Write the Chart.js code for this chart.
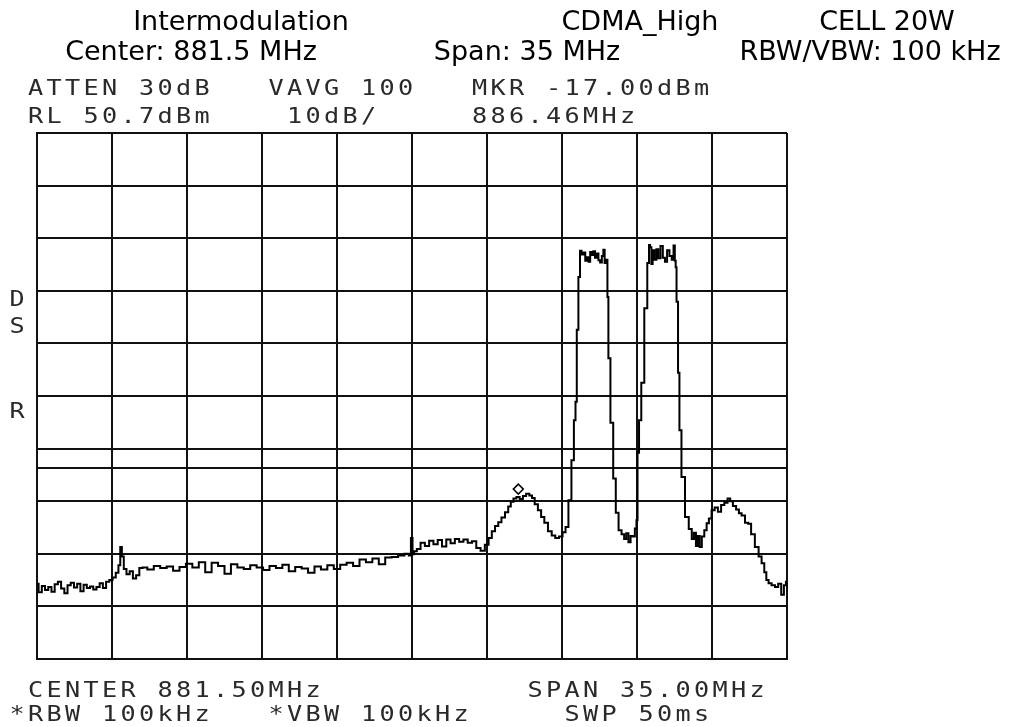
<!DOCTYPE html>
<html lang="en">
<head>
  <meta charset="UTF-8">
  <title>Intermodulation - CDMA_High</title>
  <script src="https://cdn.jsdelivr.net/npm/chart.js"></script>
  <style>
    html, body { margin: 0; padding: 0; background: #fff; }
    canvas { display: block; }
  </style>
</head>
<body>
  <canvas id="spectrum" width="1013" height="727"></canvas>

  <script>
    // sweep settings
    const startMHz = 864.0;
    const stopMHz = 899.0;
    const refLevel = 50.7;   // dBm, top graticule line
    const bottomLevel = -49.3;
    const displayLine = -13; // dBm

    // graticule
    const freqTicks = [864, 867.5, 871, 874.5, 878, 881.5, 885, 888.5, 892, 895.5, 899];
    const levelTicks = [50.7, 40.7, 30.7, 20.7, 10.7, 0.7, -9.3, -19.3, -29.3, -39.3, -49.3];

    // marker
    const markerFreq = [886.46];
    const markerLevel = [-17.0];

    // trace: frequency (MHz) and level (dBm)
    const freqs = [
      864.00, 864.15, 864.30, 864.45, 864.60, 864.75, 864.90, 865.05, 865.20, 865.35,
      865.50, 865.65, 865.80, 865.95, 866.10, 866.25, 866.40, 866.55, 866.70, 866.85,
      867.00, 867.15, 867.30, 867.45, 867.60, 867.75, 867.85, 867.92, 868.00, 868.10,
      868.25, 868.40, 868.55, 868.70, 868.85,
      869.0, 869.3, 869.6, 869.9, 870.2, 870.5, 870.8, 871.1, 871.4, 871.7,
      872.0, 872.3, 872.6, 872.9, 873.2, 873.5, 873.8, 874.1, 874.4, 874.7,
      875.0, 875.3, 875.6, 875.9, 876.2, 876.5, 876.8, 877.1, 877.4, 877.7,
      878.0, 878.3, 878.6, 878.9, 879.2, 879.5, 879.8, 880.1, 880.4, 880.7,
      881.0, 881.3, 881.40, 881.50, 881.55, 881.65, 881.80,
      882.00, 882.20, 882.40, 882.60, 882.80, 883.00, 883.20, 883.40, 883.60, 883.80,
      884.00, 884.20, 884.40, 884.60, 884.80, 885.00, 885.15, 885.30, 885.45, 885.60,
      885.75, 885.93, 886.05, 886.17, 886.30, 886.45, 886.60, 886.75, 886.90, 887.05,
      887.15, 887.30, 887.45, 887.60, 887.75, 887.94, 888.10, 888.27, 888.45, 888.60,
      888.73, 888.87, 889.01, 889.10, 889.16, 889.22, 889.31, 889.37, 889.45, 889.55,
      889.62, 889.70, 889.78, 889.85, 889.93, 890.00, 890.08, 890.16, 890.24, 890.32,
      890.40, 890.46, 890.52, 890.60, 890.64, 890.69, 890.83, 890.95, 891.07, 891.21,
      891.35, 891.45, 891.55, 891.65, 891.75, 891.85, 891.95, 892.00, 892.05, 892.14,
      892.26, 892.42, 892.54, 892.58, 892.64, 892.70, 892.76, 892.86, 892.95, 893.04,
      893.15, 893.26, 893.35, 893.46, 893.57, 893.67, 893.74, 893.79, 893.82, 893.87,
      893.96, 894.00, 894.15, 894.33, 894.50, 894.61, 894.70, 894.80, 894.88, 894.97,
      895.08, 895.20, 895.30, 895.41, 895.55, 895.70, 895.85, 896.00, 896.15, 896.30,
      896.40, 896.55, 896.70, 896.81, 896.95, 897.13, 897.25, 897.40, 897.60, 897.75,
      897.88, 898.00, 898.07, 898.21, 898.35, 898.53, 898.65, 898.81, 898.90, 899.00
    ];
    const levels = [
      -35.0, -36.6, -35.4, -36.2, -35.6, -36.5, -35.1, -34.6, -35.9, -36.8,
      -35.3, -34.8, -35.7, -35.0, -36.4, -35.2, -35.8, -35.5, -36.1, -35.6,
      -34.9, -35.8, -34.6, -34.3, -33.8, -32.9, -31.5, -28.0, -29.8, -32.2,
      -33.2, -32.6, -34.0, -33.4, -32.0,
      -31.9, -32.3, -31.6, -32.0, -31.7, -32.5, -31.8, -31.2, -31.9, -30.9,
      -32.8, -31.0, -31.6, -33.1, -31.3, -31.9, -32.2, -31.5, -31.9, -32.4,
      -31.6, -32.0, -31.4, -32.6, -31.8, -32.1, -32.9, -31.7, -32.3, -31.5,
      -32.2, -31.4, -31.0, -31.6, -30.4, -30.9, -30.2, -31.3, -30.0, -29.9,
      -29.6, -29.3, -29.6, -26.3, -29.4, -28.8, -28.4,
      -27.2, -27.8, -26.8, -27.5, -26.7, -27.9, -26.6, -27.3, -26.5, -27.0,
      -26.6, -27.2, -26.9, -28.2, -28.7, -27.6, -26.3, -25.0, -24.0, -23.3,
      -22.4, -21.4, -20.3, -19.4, -18.8, -18.5, -18.9, -18.3, -17.9, -18.2,
      -18.7, -19.9, -21.0, -22.3, -23.4, -25.0, -25.8, -26.3, -26.0, -25.2,
      -24.2, -19.1, -11.5, -3.9, -0.4, 13.3, 23.3, 28.3, 27.6, 28.0,
      26.4, 27.1, 26.2, 28.1, 27.5, 28.2, 27.0, 27.8, 26.5, 26.1,
      27.3, 28.5, 26.0, 26.6, 19.5, 7.9, -4.4, -15.0, -21.5, -24.8,
      -25.6, -26.5, -25.4, -27.1, -25.9, -26.0, -24.5, -22.9, -10.1, -3.9,
      3.2, 17.4, 26.0, 29.4, 29.0, 25.8, 28.4, 26.6, 28.6, 26.9,
      29.2, 27.0, 26.2, 28.4, 27.3, 26.6, 29.3, 26.4, 25.2, 18.6,
      5.1, -5.8, -14.7, -22.3, -24.6, -26.5, -25.3, -27.8, -25.9, -28.0,
      -26.0, -24.8, -23.5, -22.6, -21.0, -20.5, -21.3, -20.0, -19.6, -18.8,
      -19.3, -20.2, -20.9, -21.6, -22.0, -23.4, -23.6, -25.6, -28.0, -29.8,
      -31.1, -32.8, -34.3, -34.9, -35.3, -35.6, -35.0, -37.1, -35.3, -34.6
    ];

    const ink = '#111';

    // header: [text, centre x, baseline y]
    const headerLines = [
      ['Intermodulation', 241, 30], ['CDMA_High', 640, 30], ['CELL 20W', 887, 30],
      ['Center: 881.5 MHz', 191, 60], ['Span: 35 MHz', 527, 60], ['RBW/VBW: 100 kHz', 870, 60]
    ];
    // analyzer screen text on a fixed character grid: [text, column, baseline y]
    const colOrigin = 28;
    const colPitch = 18.5;
    const screenLines = [
      ['ATTEN 30dB', 0, 95], ['VAVG 100', 13, 95], ['MKR -17.00dBm', 24, 95],
      ['RL 50.7dBm', 0, 123], ['10dB/', 14, 123], ['886.46MHz', 24, 123],
      ['CENTER 881.50MHz', 0, 697], ['SPAN 35.00MHz', 27, 697],
      ['*RBW 100kHz', -1, 721], ['*VBW 100kHz', 13, 721], ['SWP 50ms', 29, 721],
      ['D', -1, 306], ['S', -1, 333], ['R', -1, 418]
    ];

    const annotations = {
      id: 'annotations',
      beforeDraw(chart) {
        const ctx = chart.ctx;
        ctx.save();
        ctx.fillStyle = '#fff';
        ctx.fillRect(0, 0, chart.width, chart.height);
        ctx.restore();
      },
      afterDraw(chart) {
        const ctx = chart.ctx;
        ctx.save();
        ctx.fillStyle = '#000';
        ctx.textBaseline = 'alphabetic';
        ctx.font = '27px "DejaVu Sans"';
        ctx.textAlign = 'center';
        headerLines.forEach(([t, x, y]) => ctx.fillText(t, x, y));
        ctx.restore();

        // wide, thin vector-style lettering of the analyzer
        const sx = 1.2;
        ctx.save();
        ctx.fillStyle = '#2a2a2a';
        ctx.textAlign = 'left';
        ctx.font = '21px "DejaVu Sans Mono"';
        ctx.letterSpacing = (colPitch / sx - 12.64).toFixed(2) + 'px';
        ctx.scale(sx, 1);
        screenLines.forEach(([t, col, y]) => ctx.fillText(t, (colOrigin + col * colPitch) / sx, y));
        ctx.restore();
      }
    };

    const setTicks = list => axis => { axis.ticks = list.map(v => ({ value: v })); };

    const chart = new Chart(document.getElementById('spectrum'), {
      type: 'line',
      data: {
        datasets: [
          {
            label: 'Trace A',
            data: freqs.map((f, i) => ({ x: f, y: levels[i] })),
            borderColor: '#000',
            borderWidth: 2,
            pointRadius: 0,
            stepped: 'middle',
            fill: false
          },
          {
            label: 'Display line',
            data: [{ x: startMHz, y: displayLine }, { x: stopMHz, y: displayLine }],
            borderColor: ink,
            borderWidth: 2,
            pointRadius: 0
          },
          {
            label: 'Marker',
            data: markerFreq.map((f, i) => ({ x: f, y: markerLevel[i] })),
            showLine: false,
            pointStyle: 'rectRot',
            pointRadius: 5,
            borderWidth: 1.5,
            borderColor: '#000',
            backgroundColor: '#fff'
          }
        ]
      },
      options: {
        responsive: false,
        animation: false,
        devicePixelRatio: 1,
        layout: { padding: { left: 37, right: 226, top: 133, bottom: 68 } },
        plugins: {
          legend: { display: false },
          tooltip: { enabled: false },
          title: { display: false }
        },
        scales: {
          x: {
            type: 'linear',
            min: startMHz,
            max: stopMHz,
            afterBuildTicks: setTicks(freqTicks),
            ticks: { display: false },
            grid: { color: ink, lineWidth: 2, drawTicks: false },
            border: { display: true, color: ink, width: 2 }
          },
          y: {
            type: 'linear',
            min: bottomLevel,
            max: refLevel,
            afterBuildTicks: setTicks(levelTicks),
            ticks: { display: false },
            grid: { color: ink, lineWidth: 2, drawTicks: false },
            border: { display: true, color: ink, width: 2 }
          }
        }
      },
      plugins: [annotations]
    });
  </script>
</body>
</html>
